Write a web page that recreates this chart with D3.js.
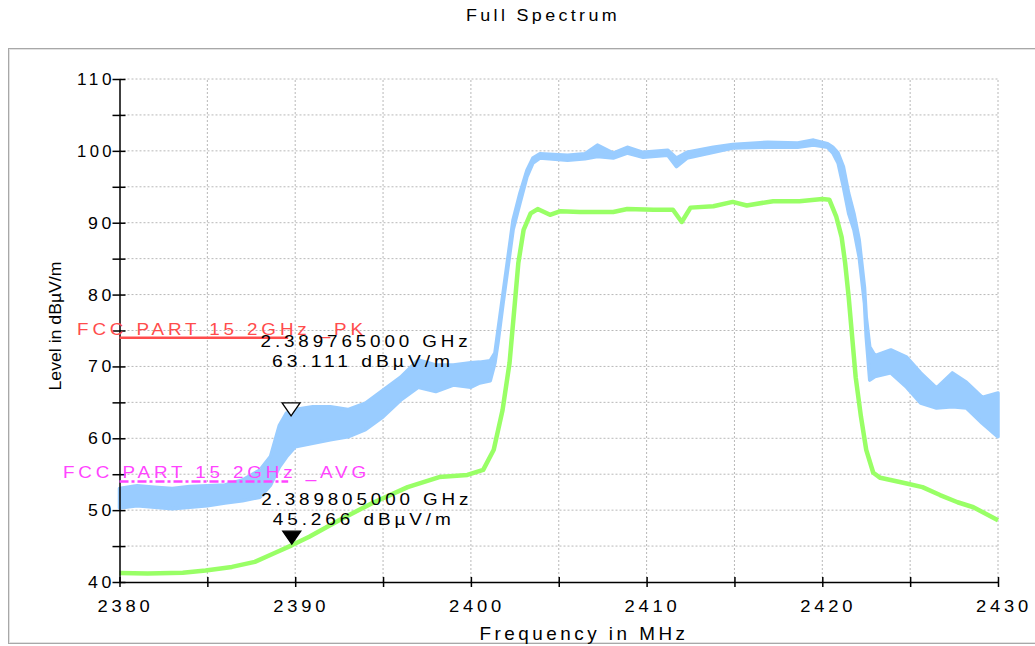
<!DOCTYPE html>
<html>
<head>
<meta charset="utf-8">
<script src="https://cdn.jsdelivr.net/npm/d3@7"></script>
<style>
  body { margin: 0; background: #fff; }
  text { font-family: "Liberation Sans", Arial, sans-serif; }
  .wide { letter-spacing: 3.5px; }
</style>
</head>
<body>
<script>
// peak trace, read as an upper and lower edge of the noisy band
var pkFreq = [2380, 2381, 2382, 2383, 2384, 2385, 2386, 2387, 2388, 2388.6, 2389.1, 2389.5,
  2390, 2391, 2392, 2393, 2394, 2395, 2396, 2397, 2398, 2399, 2400, 2400.5, 2401.1,
  2401.37, 2401.54, 2401.83, 2402.11, 2402.4, 2402.79, 2403.19, 2403.53, 2403.93,
  2405.5, 2406.5, 2407.2, 2408.1, 2408.9, 2409.8, 2411.2, 2411.7, 2412.3, 2413.8,
  2414.9, 2416.9, 2418.6, 2419.5, 2420.3, 2420.6, 2420.9, 2421.2, 2421.5, 2421.8,
  2422.1, 2422.4, 2422.5, 2422.7, 2423, 2423.9, 2424.8, 2425.6, 2426.5, 2427.4,
  2428.2, 2429.1, 2430];
var pkHigh = [53.0, 53.4, 53.2, 53.0, 53.3, 53.4, 53.5, 54.2, 55.6, 57.5, 61.8, 63.5,
  64.0, 64.4, 64.4, 64.0, 64.9, 66.7, 68.5, 70.9, 70.2, 70.2, 70.5, 70.6, 70.8,
  71.9, 75.0, 80.2, 85.2, 90.4, 94.1, 97.3, 99.0, 99.6,
  99.4, 99.6, 100.8, 99.7, 100.5, 99.8, 100.1, 99.0, 99.8, 100.5,
  100.9, 101.2, 101.1, 101.5, 101.0, 100.5, 99.7, 97.8, 94.1, 91.3,
  87.6, 81.0, 76.9, 72.7, 71.5, 72.3, 71.3, 69.1, 67.0, 69.1,
  67.8, 65.7, 66.3];
var pkLow = [50.3, 50.6, 50.4, 50.2, 50.4, 50.6, 51.0, 51.3, 51.8, 53.5, 56.0, 57.4,
  58.8, 59.3, 59.8, 60.2, 61.2, 63.0, 65.3, 67.1, 66.5, 67.4, 67.1, 67.7, 68.0,
  70.5, 73.3, 78.8, 83.8, 89.0, 92.7, 96.4, 98.3, 99.0,
  98.7, 98.9, 99.2, 99.0, 99.7, 99.1, 99.4, 97.8, 99.0, 99.8,
  100.4, 100.5, 100.5, 100.8, 100.5, 99.7, 98.3, 95.0, 91.3, 89.0,
  85.2, 78.8, 74.1, 68.1, 68.6, 69.1, 67.1, 64.9, 64.2, 64.4,
  64.2, 62.1, 60.2];

// average trace
var avFreq = [2380, 2381.6, 2383.6, 2384.9, 2386.4, 2387.7, 2388.8, 2389.8, 2390.8,
  2392.5, 2394.4, 2396.4, 2398.2, 2399.8, 2400.7, 2401.3, 2401.8, 2402.2, 2402.5,
  2402.7, 2403, 2403.4, 2403.8, 2404.5, 2405.1, 2406.2, 2408.1, 2408.9, 2410.4,
  2411.5, 2412, 2412.5, 2413.8, 2414.9, 2415.7, 2417.2, 2418.7, 2420, 2420.4,
  2420.8, 2421.1, 2421.3, 2421.5, 2421.7, 2421.9, 2422.2, 2422.5, 2422.9, 2423.3,
  2424.8, 2425.7, 2426.7, 2427.7, 2428.6, 2430];
var avLevel = [41.25, 41.2, 41.3, 41.6, 42.1, 42.8, 44.0, 45.1, 46.3,
  48.6, 51.0, 53.2, 54.6, 54.9, 55.6, 58.4, 63.9, 70.5, 78.8,
  84.4, 89.0, 91.3, 91.9, 91.1, 91.6, 91.5, 91.5, 91.9, 91.8,
  91.8, 90.1, 92.1, 92.3, 92.9, 92.4, 93.0, 93.0, 93.3, 93.2,
  90.8, 88.0, 84.4, 79.7, 74.1, 68.5, 63.0, 58.4, 55.2, 54.5,
  53.7, 53.2, 52.1, 51.1, 50.4, 48.6];

// limit lines
var limitNames = ["FCC PART 15 2GHz _PK", "FCC PART 15 2GHz _AVG"];
var limitLevels = [74, 54];
var limitStart = [2380, 2380];
var limitEnd = [2389.6, 2389.6];

// markers
var markerFreq = [2389.765, 2389.805];
var markerLevel = [63.111, 45.266];
var markerText1 = ["2.389765000 GHz", "2.389805000 GHz"];
var markerText2 = ["63.111 dBµV/m", "45.266 dBµV/m"];

var xTicks = [2380, 2390, 2400, 2410, 2420, 2430];
var yTicks = [40, 50, 60, 70, 80, 90, 100, 110];

var W = 1035, H = 646;
var svg = d3.select("body").append("svg")
    .attr("width", W)
    .attr("height", H);

var x = d3.scaleLinear().domain([2380, 2430]).range([119.5, 998]);
var y = d3.scaleLinear().domain([40, 110]).range([582, 79]);

// frame
svg.append("rect")
    .attr("x", 8.5).attr("y", 48.5)
    .attr("width", 1040).attr("height", 595)
    .style("fill", "none").style("stroke", "#a8a8a8").style("stroke-width", 1);
svg.append("rect")
    .attr("x", 9.5).attr("y", 49.5)
    .attr("width", 1040).attr("height", 593)
    .style("fill", "none").style("stroke", "#e2e2e2").style("stroke-width", 1);

// stretched text, the instrument software draws wide spaced letters
function wideText(sel, len) {
    return sel.attr("class", "wide")
        .attr("textLength", len)
        .attr("lengthAdjust", "spacingAndGlyphs");
}

wideText(svg.append("text"), 154)
    .attr("x", 543).attr("y", 21)
    .attr("text-anchor", "middle")
    .style("font-size", "16px")
    .style("letter-spacing", "3px")
    .text("Full Spectrum");

// dotted grid every 5 units
var grid = svg.append("g").style("stroke", "#b8b8b8").style("stroke-dasharray", "2,2").style("stroke-width", 1);
grid.selectAll(".gx")
    .data(d3.range(2385, 2431, 5))
    .enter().append("line")
    .attr("x1", function (d) { return x(d); }).attr("x2", function (d) { return x(d); })
    .attr("y1", y(40)).attr("y2", y(110));
grid.selectAll(".gy")
    .data(d3.range(45, 111, 5))
    .enter().append("line")
    .attr("y1", function (d) { return y(d); }).attr("y2", function (d) { return y(d); })
    .attr("x1", x(2380)).attr("x2", x(2430));

// peak band
var pkData = pkFreq.map(function (f, i) { return { f: f, hi: pkHigh[i], lo: pkLow[i] }; });
svg.append("path")
    .datum(pkData)
    .attr("d", d3.area()
        .x(function (d) { return x(d.f); })
        .y0(function (d) { return y(d.lo); })
        .y1(function (d) { return y(d.hi); }))
    .style("fill", "#99ccff")
    .style("stroke", "#99ccff")
    .style("stroke-width", 3.5)
    .style("stroke-linejoin", "round");

// average line
var avData = avFreq.map(function (f, i) { return { f: f, v: avLevel[i] }; });
svg.append("path")
    .datum(avData)
    .attr("d", d3.line()
        .x(function (d) { return x(d.f); })
        .y(function (d) { return y(d.v); }))
    .style("fill", "none")
    .style("stroke", "#99ff66")
    .style("stroke-width", 4.5)
    .style("stroke-linejoin", "round");

// axes
var yAxis = d3.axisLeft(y).tickValues(d3.range(40, 111, 5)).tickSize(7).tickSizeOuter(0).tickFormat("");
var gy = svg.append("g").attr("transform", "translate(" + x(2380) + ",0)").call(yAxis);
var xAxis = d3.axisBottom(x).tickValues(d3.range(2380, 2431, 5)).tickSize(5).tickSizeOuter(0).tickFormat("");
var gx = svg.append("g").attr("transform", "translate(0," + y(40) + ")").call(xAxis);
gy.selectAll(".tick line").attr("x1", 6).style("stroke-width", 1.5);
gx.selectAll(".tick line").attr("y1", -5).style("stroke-width", 1.5);
gy.select(".domain").style("stroke-width", 1.5);
gx.select(".domain").style("stroke-width", 1.5);

svg.append("g").selectAll("text")
    .data(yTicks)
    .enter().append("text")
    .each(function (d) { wideText(d3.select(this), String(d).length > 2 ? 38 : 27); })
    .attr("x", 115)
    .attr("y", function (d) { return y(d) + 6; })
    .attr("text-anchor", "end")
    .style("font-size", "17px")
    .text(function (d) { return d; });

svg.append("g").selectAll("text")
    .data(xTicks)
    .enter().append("text")
    .each(function () { wideText(d3.select(this), 56); })
    .attr("x", function (d) { return x(d) + 6; })
    .attr("y", 612)
    .attr("text-anchor", "middle")
    .style("font-size", "17px")
    .text(function (d) { return d; });

wideText(svg.append("text"), 209)
    .attr("x", 584).attr("y", 640)
    .attr("text-anchor", "middle")
    .style("font-size", "19px")
    .text("Frequency in MHz");

svg.append("text")
    .attr("transform", "translate(61,326) rotate(-90)")
    .attr("text-anchor", "middle")
    .attr("textLength", 129).attr("lengthAdjust", "spacingAndGlyphs")
    .style("font-size", "16px")
    .text("Level in dBµV/m");

// limit lines and their names
var limitColors = ["#ff4c4c", "#ff44ff"];
var limitDash = [null, "9,3,3,3"];
var limitLabelX = [77, 63];
limitLevels.forEach(function (lv, i) {
    svg.append("line")
        .attr("x1", x(limitStart[i])).attr("x2", x(limitEnd[i]))
        .attr("y1", y(lv)).attr("y2", y(lv))
        .style("stroke", limitColors[i])
        .style("stroke-width", 2.5)
        .style("stroke-dasharray", limitDash[i]);
    wideText(svg.append("text"), i === 0 ? 290 : 307)
        .attr("x", limitLabelX[i]).attr("y", y(lv) - 3)
        .style("font-size", "17px")
        .style("fill", limitColors[i])
        .text(limitNames[i]);
});

// markers
var labelDy = [[-69, -49], [-39, -19]];
markerFreq.forEach(function (f, i) {
    var mx = x(f), my = y(markerLevel[i]);
    svg.append("path")
        .attr("d", "M" + mx + "," + my + "L" + (mx - 9) + "," + (my - 13) + "L" + (mx + 9) + "," + (my - 13) + "Z")
        .style("fill", i === 0 ? "#fff" : "#000")
        .style("stroke", "#000")
        .style("stroke-width", 1.3);
    wideText(svg.append("text"), 211)
        .attr("x", mx + 75).attr("y", my + labelDy[i][0])
        .attr("text-anchor", "middle")
        .style("font-size", "17px")
        .text(markerText1[i]);
    wideText(svg.append("text"), 182)
        .attr("x", mx + 72).attr("y", my + labelDy[i][1])
        .attr("text-anchor", "middle")
        .style("font-size", "17px")
        .text(markerText2[i]);
});
</script>
</body>
</html>
